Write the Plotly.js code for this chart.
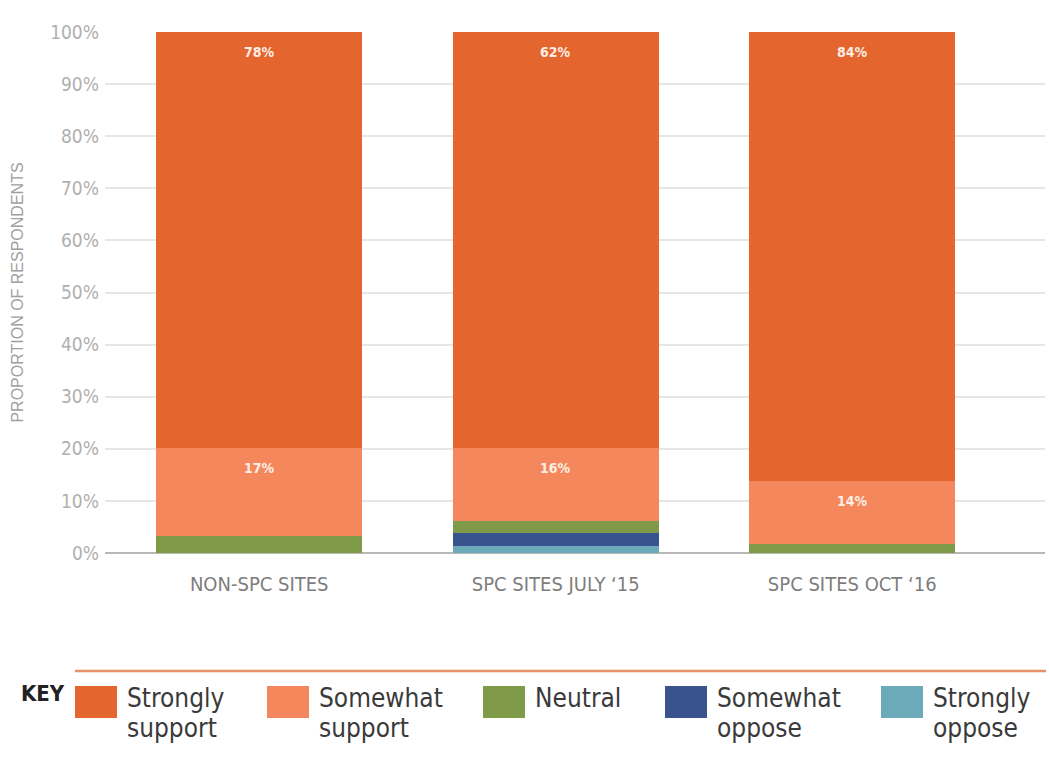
<!DOCTYPE html>
<html>
<head>
<meta charset="utf-8">
<script src="https://cdn.plot.ly/plotly-3.0.1.min.js"></script>
<style>html,body{margin:0;padding:0;background:#fff;}#chart{width:1049px;height:758px;}</style>
</head>
<body>
<div id="chart"></div>
<script>
// ---- data ----
var categories = ['NON-SPC SITES', 'SPC SITES JULY \u201815', 'SPC SITES OCT \u201816'];
var seriesNames = ['Strongly oppose', 'Somewhat oppose', 'Neutral', 'Somewhat support', 'Strongly support'];
var stronglyOppose  = [0, 1.4, 0];
var somewhatOppose  = [0, 2.4, 0];
var neutral         = [3.3, 2.4, 1.7];
var somewhatSupport = [16.8, 13.9, 12.2];
var stronglySupport = [79.9, 79.9, 86.1];
var somewhatSupportLabels = ['17%', '16%', '14%'];
var stronglySupportLabels = ['78%', '62%', '84%'];
var yTickVals = [0, 10, 20, 30, 40, 50, 60, 70, 80, 90, 100];
var yTickText = ['0%', '10%', '20%', '30%', '40%', '50%', '60%', '70%', '80%', '90%', '100%'];
var legendNames = ['Strongly\nsupport', 'Somewhat\nsupport', 'Neutral', 'Somewhat\noppose', 'Strongly\noppose'];

// ---- styles ----
var colors = {
  'Strongly oppose': '#6BAAB8',
  'Somewhat oppose': '#38538E',
  'Neutral': '#7F9A48',
  'Somewhat support': '#F4885C',
  'Strongly support': '#E4652E'
};
var legendColors = ['#E4652E', '#F4885C', '#7F9A48', '#38538E', '#6BAAB8'];
var NARROW = '"DejaVu Sans Condensed", "Liberation Sans Narrow", sans-serif';
var REG = '"Liberation Sans", Arial, sans-serif';

var valuesBySeries = [stronglyOppose, somewhatOppose, neutral, somewhatSupport, stronglySupport];
var traces = seriesNames.map(function (name, i) {
  return {
    type: 'bar',
    name: name,
    x: categories,
    y: valuesBySeries[i],
    marker: { color: colors[name], line: { width: 0 } },
    hoverinfo: 'name+y',
    showlegend: false
  };
});

// ---- layout helpers (pixel -> paper) ----
var W = 1049, H = 758, ML = 105, MR = 4, MT = 32, MB = 205;
var PW = W - ML - MR, PH = H - MT - MB;
function px(x) { return (x - ML) / PW; }
function py(y) { return (H - MB - y) / PH; }

var annotations = [];
categories.forEach(function (c, i) {
  var base = stronglyOppose[i] + somewhatOppose[i] + neutral[i];
  annotations.push({
    x: c, y: base + somewhatSupport[i], xref: 'x', yref: 'y',
    text: somewhatSupportLabels[i], showarrow: false, yanchor: 'top', yshift: -10,
    font: { family: NARROW, size: 14, color: '#FDEEE4', weight: 'bold' }
  });
  annotations.push({
    x: c, y: base + somewhatSupport[i] + stronglySupport[i], xref: 'x', yref: 'y',
    text: stronglySupportLabels[i], showarrow: false, yanchor: 'top', yshift: -10,
    font: { family: NARROW, size: 14, color: '#FDEEE4', weight: 'bold' }
  });
});

annotations.push({
  xref: 'paper', yref: 'paper', x: px(19), y: py(693), xanchor: 'left', yanchor: 'middle',
  text: 'KEY', showarrow: false,
  font: { family: NARROW, size: 22, color: '#222222', weight: 'bold' }
});

var shapes = [{
  type: 'line', xref: 'paper', yref: 'paper',
  x0: px(75), x1: px(1046), y0: py(671), y1: py(671),
  line: { color: '#E8906A', width: 2.5 }
}];

var swatchLeft = [75, 267, 483, 665, 881];
var swW = 42, swTop = 686, swBot = 718;
legendNames.forEach(function (nm, i) {
  shapes.push({
    type: 'rect', xref: 'paper', yref: 'paper',
    x0: px(swatchLeft[i]), x1: px(swatchLeft[i] + swW),
    y0: py(swBot), y1: py(swTop),
    fillcolor: legendColors[i], line: { width: 0 }
  });
  var lines = nm.split('\n');
  lines.forEach(function (ln, j) {
    annotations.push({
      xref: 'paper', yref: 'paper', x: px(swatchLeft[i] + swW + 8), y: py(698 + j * 30),
      xanchor: 'left', yanchor: 'middle', text: ln, showarrow: false,
      font: { family: NARROW, size: 26, color: '#3A3A3A' }
    });
  });
});

var layout = {
  width: W, height: H,
  margin: { l: ML, r: MR, t: MT, b: MB, pad: 0 },
  paper_bgcolor: '#ffffff', plot_bgcolor: '#ffffff',
  barmode: 'stack', bargap: 0.305,
  showlegend: false,
  xaxis: {
    type: 'category', range: [-0.52, 2.65],
    showgrid: false, zeroline: false, showline: false,
    ticks: 'outside', ticklen: 13, tickcolor: 'rgba(0,0,0,0)',
    tickfont: { family: NARROW, size: 20, color: '#7D7D7D' },
    fixedrange: true
  },
  yaxis: {
    range: [0, 100], tickmode: 'array', tickvals: yTickVals, ticktext: yTickText,
    showgrid: true, gridcolor: '#E6E6E6', gridwidth: 2,
    zeroline: true, zerolinecolor: '#B8B8B8', zerolinewidth: 2,
    showline: false, ticks: '', ticklabelstandoff: 5,
    tickfont: { family: NARROW, size: 19, color: '#B0B0B0' },
    title: { text: 'PROPORTION OF RESPONDENTS', standoff: 22,
             font: { family: REG, size: 16, color: '#A0A0A0' } },
    automargin: false, fixedrange: true
  },
  annotations: annotations,
  shapes: shapes
};

Plotly.newPlot('chart', traces, layout, { displayModeBar: false, staticPlot: true });
</script>
</body>
</html>
